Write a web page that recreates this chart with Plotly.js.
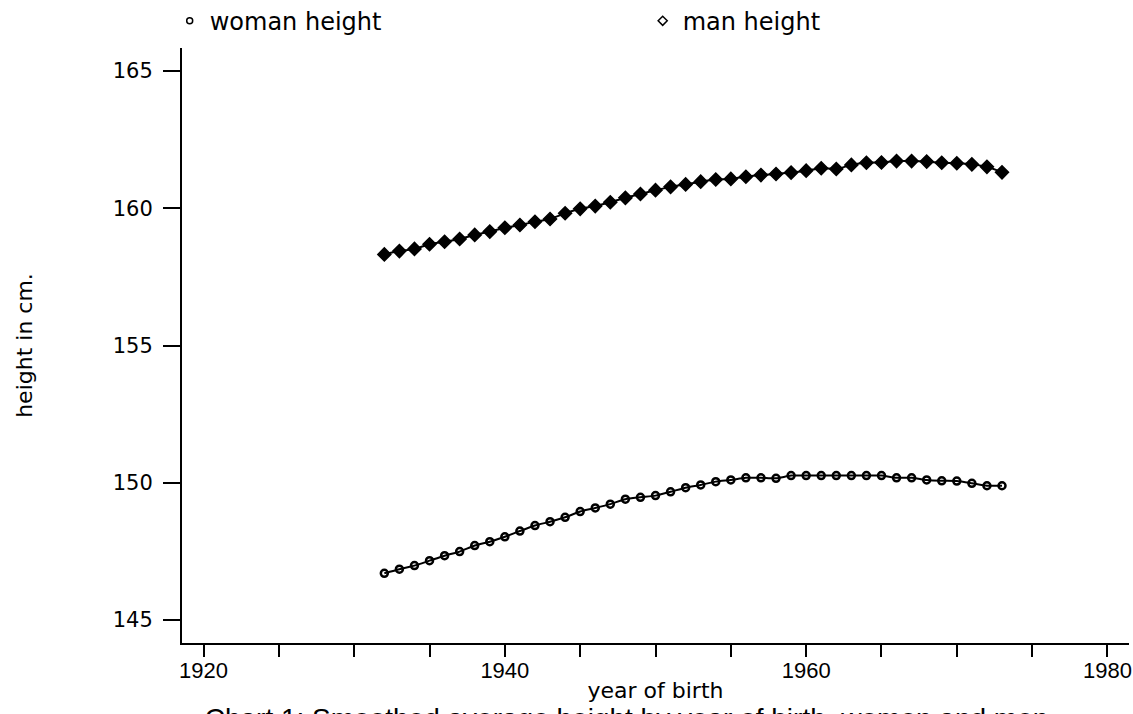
<!DOCTYPE html>
<html>
<head>
<meta charset="utf-8">
<script src="https://cdn.plot.ly/plotly-3.0.1.min.js"></script>
<style>
  html, body { margin: 0; padding: 0; background: #fff; }
  #chart { width: 1133px; height: 714px; }
</style>
</head>
<body>
<div id="chart"></div>
<script>
// ---- data ----
const years = [1932, 1933, 1934, 1935, 1936, 1937, 1938, 1939, 1940, 1941,
               1942, 1943, 1944, 1945, 1946, 1947, 1948, 1949, 1950, 1951,
               1952, 1953, 1954, 1955, 1956, 1957, 1958, 1959, 1960, 1961,
               1962, 1963, 1964, 1965, 1966, 1967, 1968, 1969, 1970, 1971,
               1972, 1973];

const womanHeight = [146.70, 146.85, 146.98, 147.16, 147.34, 147.49, 147.71, 147.85, 148.03, 148.24,
                     148.44, 148.58, 148.74, 148.95, 149.08, 149.22, 149.40, 149.47, 149.53, 149.67,
                     149.82, 149.92, 150.04, 150.10, 150.18, 150.18, 150.16, 150.26, 150.26, 150.26,
                     150.26, 150.26, 150.26, 150.26, 150.18, 150.18, 150.10, 150.07, 150.06, 149.98,
                     149.89, 149.89];

const manHeight = [158.32, 158.44, 158.52, 158.69, 158.78, 158.88, 159.03, 159.15, 159.29, 159.39,
                   159.51, 159.61, 159.82, 159.98, 160.08, 160.22, 160.38, 160.52, 160.66, 160.78,
                   160.87, 160.97, 161.05, 161.07, 161.15, 161.21, 161.25, 161.30, 161.37, 161.46,
                   161.43, 161.58, 161.66, 161.67, 161.72, 161.72, 161.70, 161.66, 161.64, 161.60,
                   161.51, 161.31];

const seriesNames = ["woman height", "man height"];
const xTickVals = [1920, 1925, 1930, 1935, 1940, 1945, 1950, 1955, 1960, 1965, 1970, 1975, 1980];
const xTickText = ["1920", "", "", "", "1940", "", "", "", "1960", "", "", "", "1980"];
const yTickVals = [145, 150, 155, 160, 165];
const yTickText = ["145", "150", "155", "160", "165"];

const chartTitle = "Chart 1: Smoothed average height by year of birth, women and men";
const xTitle = "year of birth";
const yTitle = "height in cm.";

// ---- styling ----
const INK = "#000000";
const LABEL_FONT = "DejaVu Sans, Liberation Sans, Arial, sans-serif";
const TICK_FONT = "Liberation Sans, Arial, sans-serif";

const traces = [
  // lines
  { x: years, y: womanHeight, type: "scatter", mode: "lines", showlegend: false, hoverinfo: "skip",
    line: { color: INK, width: 2, shape: "spline", smoothing: 0.6 } },
  { x: years, y: manHeight, type: "scatter", mode: "lines", showlegend: false, hoverinfo: "skip",
    line: { color: INK, width: 2, shape: "spline", smoothing: 0.6 } },
  // markers
  { x: years, y: womanHeight, type: "scatter", mode: "markers", showlegend: false, name: seriesNames[0],
    marker: { symbol: "circle-open", size: 7, color: INK, line: { color: INK, width: 2.5 } } },
  { x: years, y: manHeight, type: "scatter", mode: "markers", showlegend: false, name: seriesNames[1],
    marker: { symbol: "diamond", size: 10, color: INK, line: { color: INK, width: 1.5 } } },
  // legend entries (small hollow symbols, as in the reference key)
  { x: [null], y: [null], type: "scatter", mode: "markers", name: seriesNames[0],
    marker: { symbol: "circle-open", size: 6, color: INK, line: { color: INK, width: 1.5 } } },
  { x: [null], y: [null], type: "scatter", mode: "markers", name: seriesNames[1],
    marker: { symbol: "diamond-open", size: 7, color: INK, line: { color: INK, width: 1.5 } } }
];

const layout = {
  width: 1133,
  height: 714,
  paper_bgcolor: "#ffffff",
  plot_bgcolor: "#ffffff",
  margin: { l: 182, r: 4, t: 48, b: 71, pad: 0, autoexpand: false },
  showlegend: true,
  font: { family: LABEL_FONT, color: INK, size: 20 },
  title: {
    text: chartTitle,
    font: { family: TICK_FONT, size: 28, color: INK },
    x: 0.553, xanchor: "center", xref: "container",
    y: 0.008, yanchor: "top", yref: "container"
  },
  legend: {
    orientation: "h",
    x: -0.013, xanchor: "left",
    y: 1.045, yanchor: "middle",
    font: { family: LABEL_FONT, size: 24, color: INK },
    entrywidth: 428, entrywidthmode: "pixels",
    bgcolor: "rgba(0,0,0,0)",
    itemclick: false
  },
  xaxis: {
    range: [1918.57, 1981.43],
    tickmode: "array",
    tickvals: xTickVals,
    ticktext: xTickText,
    ticks: "outside", ticklen: 12, tickwidth: 2, tickcolor: INK,
    ticklabelstandoff: -5,
    ticklabeloverflow: "allow",
    showline: true, linewidth: 2, linecolor: INK,
    showgrid: false, zeroline: false,
    tickfont: { family: TICK_FONT, size: 22, color: INK },
    title: { text: xTitle, font: { family: LABEL_FONT, size: 22, color: INK }, standoff: 0 }
  },
  yaxis: {
    range: [144.16, 165.84],
    tickmode: "array",
    tickvals: yTickVals,
    ticktext: yTickText,
    ticks: "outside", ticklen: 17, tickwidth: 2, tickcolor: INK,
    ticklabelstandoff: 6,
    showline: true, linewidth: 2, linecolor: INK,
    showgrid: false, zeroline: false,
    tickfont: { family: LABEL_FONT, size: 21, color: INK },
    title: { text: yTitle, font: { family: LABEL_FONT, size: 22, color: INK }, standoff: 74 }
  }
};

Plotly.newPlot("chart", traces, layout, { staticPlot: true, displayModeBar: false });
</script>
</body>
</html>
